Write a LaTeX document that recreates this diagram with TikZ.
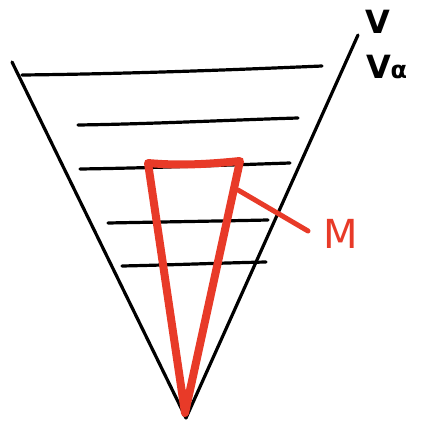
\documentclass[tikz,border=0pt]{standalone}
\usepackage{fontspec}
\setmainfont{DejaVu Sans}
\begin{document}
\begin{tikzpicture}[x=1pt,y=-1pt,line cap=round,line join=round,
  ink/.style={draw=black,line width=3.2pt},
  redink/.style={draw=myred,line width=8pt},
  lab/.style={inner sep=0pt,font=\fontsize{32}{32}\selectfont}]
\definecolor{myred}{RGB}{232,58,40}
\useasboundingbox (0,0) rectangle (426,430);
\coordinate (tl) at (12,62);
\coordinate (tr) at (358,35);
\coordinate (bot) at (186,418);
\draw[ink] (tl) -- (bot) -- (tr);
\draw[ink] (22,75) .. controls (120,74) and (230,70) .. (322,66);
\draw[ink] (78,125) .. controls (150,124) and (230,120) .. (298,118);
\draw[ink] (80,169) .. controls (150,168) and (230,165) .. (290,163);
\draw[ink] (108,223) .. controls (160,222) and (220,221) .. (268,220);
\draw[ink] (122,266) .. controls (170,265) and (220,263) .. (266,262);
\coordinate (ra) at (148,163);
\coordinate (rb) at (240,161);
\coordinate (rc) at (185,413);
\draw[redink] (ra) .. controls (180,166) and (210,164) .. (rb) -- (rc) -- cycle;
\coordinate (p1) at (238,190);
\coordinate (p2) at (308,231);
\draw[draw=myred,line width=5pt] (p1) -- (p2);
\node[lab,text=myred,anchor=center,font=\fontsize{40}{40}\selectfont] (m) at (341,234) {M};
\node[lab,anchor=center,font=\fontsize{32}{32}\selectfont\bfseries] (v) at (378,22) {V};
\node[lab,anchor=center,font=\fontsize{32}{32}\selectfont\bfseries] (va) at (387,67) {V\kern-1pt{\fontsize{24}{24}\selectfont α}};
\end{tikzpicture}
\end{document}
